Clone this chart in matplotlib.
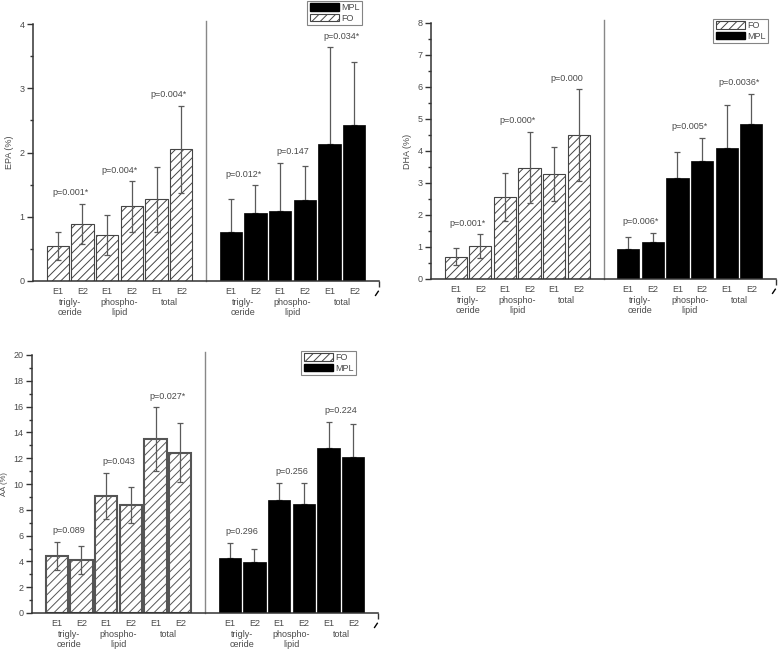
import numpy as np
import matplotlib.pyplot as plt
from matplotlib.patches import Patch

plt.rcParams["font.family"] = ["Liberation Sans", "DejaVu Sans"]
plt.rcParams["hatch.linewidth"] = 0.7
plt.rcParams["hatch.color"] = "#555555"

# --- data ---------------------------------------------------------------
bar_labels = ["E1", "E2", "E1", "E2", "E1", "E2"]
groups = ["trigly-\nceride", "phospho-\nlipid", "total"]

epa_fo = [0.55, 0.89, 0.72, 1.16, 1.27, 2.05]
epa_fo_sd = [0.22, 0.31, 0.31, 0.39, 0.51, 0.68]
epa_mpl = [0.76, 1.06, 1.09, 1.26, 2.13, 2.43]
epa_mpl_sd = [0.51, 0.43, 0.75, 0.53, 1.51, 0.98]
epa_p_fo = ["p=0.001*", "p=0.004*", "p=0.004*"]
epa_p_mpl = ["p=0.012*", "p=0.147", "p=0.034*"]

dha_fo = [0.70, 1.03, 2.55, 3.48, 3.28, 4.50]
dha_fo_sd = [0.26, 0.37, 0.75, 1.12, 0.84, 1.43]
dha_mpl = [0.93, 1.15, 3.15, 3.70, 4.08, 4.85]
dha_mpl_sd = [0.37, 0.30, 0.83, 0.72, 1.35, 0.94]
dha_p_fo = ["p=0.001*", "p=0.000*", "p=0.000"]
dha_p_mpl = ["p=0.006*", "p=0.005*", "p=0.0036*"]

aa_fo = [4.42, 4.11, 9.08, 8.38, 13.50, 12.44]
aa_fo_sd = [1.11, 1.06, 1.78, 1.42, 2.46, 2.25]
aa_mpl = [4.24, 3.96, 8.74, 8.48, 12.77, 12.13]
aa_mpl_sd = [1.19, 1.01, 1.35, 1.61, 2.07, 2.51]
aa_p_fo = ["p=0.089", "p=0.043", "p=0.027*"]
aa_p_mpl = ["p=0.296", "p=0.256", "p=0.224"]

TXT = "#4a4a4a"
AXC = "#333333"
FS = 6.5


def fo_patch(edge_lw, edge="#444444"):
    return dict(facecolor="white", edgecolor=edge, hatch="////",
                linewidth=edge_lw)


def draw_panel(ax, fo, fo_sd, mpl, mpl_sd, p_fo, p_mpl, ymax, major, minor,
               ylabel, legend_first, legend_anchor, fo_lw=0.8,
               fo_edge="#444444", ylab_fs=FS):
    fo_x = np.arange(1, 7)
    mpl_x = np.arange(8, 14)
    width = 0.9
    ax.bar(fo_x, fo, width=width, zorder=2, **fo_patch(fo_lw, fo_edge))
    ax.errorbar(fo_x, fo, yerr=fo_sd, fmt="none", ecolor="#5a5a5a",
                elinewidth=0.9, capsize=2.2, capthick=0.9, zorder=3)
    ax.bar(mpl_x, mpl, width=width, color="black", edgecolor="black",
           linewidth=0.5, zorder=2)
    ax.errorbar(mpl_x, mpl, yerr=[np.zeros(6), mpl_sd], fmt="none",
                ecolor="#5a5a5a", elinewidth=0.9, capsize=2.2, capthick=0.9,
                zorder=1)

    # p-value labels above each E1/E2 pair
    for xs, vals, sds, labels in ((fo_x, fo, fo_sd, p_fo),
                                  (mpl_x, mpl, mpl_sd, p_mpl)):
        tops = np.array(vals) + np.array(sds)
        for i, lab in enumerate(labels):
            xc = (xs[2 * i] + xs[2 * i + 1]) / 2
            yt = max(tops[2 * i], tops[2 * i + 1])
            ax.annotate(lab, (xc, yt), xytext=(0, 8), textcoords="offset points",
                        ha="center", va="center", fontsize=FS, color=TXT)

    # divider between FO and MPL blocks
    ax.plot([7, 7], [0, 1.01], color="#888888", lw=1.0,
            transform=ax.get_xaxis_transform(), clip_on=False)

    ax.set_xlim(0, 14)
    ax.set_ylim(0, ymax)
    ax.set_yticks(np.arange(0, ymax + 1e-9, major))
    ax.set_yticks(np.arange(0, ymax + 1e-9, minor), minor=True)
    ax.set_xticks(np.concatenate([fo_x, mpl_x]))
    ax.set_xticklabels(bar_labels * 2)
    ax.set_xticks([14], minor=True)
    ax.tick_params(axis="x", which="major", length=0, pad=4, labelsize=FS,
                   labelcolor=TXT)
    ax.tick_params(axis="x", which="minor", length=4, width=1, color=AXC)
    ax.tick_params(axis="y", which="major", length=4, width=1, color=AXC,
                   labelsize=FS, labelcolor=TXT, pad=2)
    ax.tick_params(axis="y", which="minor", length=2, width=1, color=AXC)
    for s in ("top", "right"):
        ax.spines[s].set_visible(False)
    for s in ("left", "bottom"):
        ax.spines[s].set_color(AXC)
        ax.spines[s].set_linewidth(1.1)

    # group names under the E1/E2 labels
    trans = ax.get_xaxis_transform()
    for xs in (fo_x, mpl_x):
        for i, g in enumerate(groups):
            xc = (xs[2 * i] + xs[2 * i + 1]) / 2
            ax.annotate(g, (xc, 0), xycoords=trans, xytext=(0, -12),
                        textcoords="offset points", ha="center", va="top",
                        fontsize=FS, color=TXT, linespacing=1.2)

    # axis break mark at the right end
    ax.plot([0.990, 0.998], [-0.056, -0.040], transform=ax.transAxes,
            color="black", lw=1.0, clip_on=False)

    ax.set_ylabel(ylabel, fontsize=ylab_fs, color=TXT, labelpad=4)

    fo_h = Patch(label="FO", **fo_patch(0.8))
    mpl_h = Patch(facecolor="black", edgecolor="black", label="MPL")
    handles = [mpl_h, fo_h] if legend_first == "MPL" else [fo_h, mpl_h]
    leg = ax.legend(handles=handles, loc="upper right",
                    bbox_to_anchor=legend_anchor,
                    bbox_transform=ax.figure.transFigure, fontsize=FS,
                    frameon=True, fancybox=False, handlelength=3.2,
                    handleheight=0.9, handletextpad=0.3, borderpad=0.25,
                    labelspacing=0.15, borderaxespad=0)
    leg.get_frame().set_edgecolor("#666666")
    leg.get_frame().set_linewidth(0.8)
    for t in leg.get_texts():
        t.set_color(TXT)


W, H = 778, 651
fig = plt.figure(figsize=(W / 100, H / 100), dpi=100)


def axes_px(x0, x1, ytop, ybot):
    return fig.add_axes([x0 / W, 1 - ybot / H, (x1 - x0) / W, (ybot - ytop) / H])


ax1 = axes_px(33, 379, 24, 281)
draw_panel(ax1, epa_fo, epa_fo_sd, epa_mpl, epa_mpl_sd, epa_p_fo, epa_p_mpl,
           4, 1, 0.5, "EPA (%)", "MPL", (362 / W, 1 - 1 / H))

ax2 = axes_px(431, 776, 23, 279)
draw_panel(ax2, dha_fo, dha_fo_sd, dha_mpl, dha_mpl_sd, dha_p_fo, dha_p_mpl,
           8, 1, 0.5, "DHA (%)", "FO", (768 / W, 1 - 19 / H))

ax3 = axes_px(32, 378, 355, 613)
draw_panel(ax3, aa_fo, aa_fo_sd, aa_mpl, aa_mpl_sd, aa_p_fo, aa_p_mpl,
           20, 2, 1, "AA (%)", "FO", (356 / W, 1 - 351 / H), fo_lw=1.5,
           fo_edge="#555555", ylab_fs=5.5)

fig.savefig("out.png", dpi=100)
